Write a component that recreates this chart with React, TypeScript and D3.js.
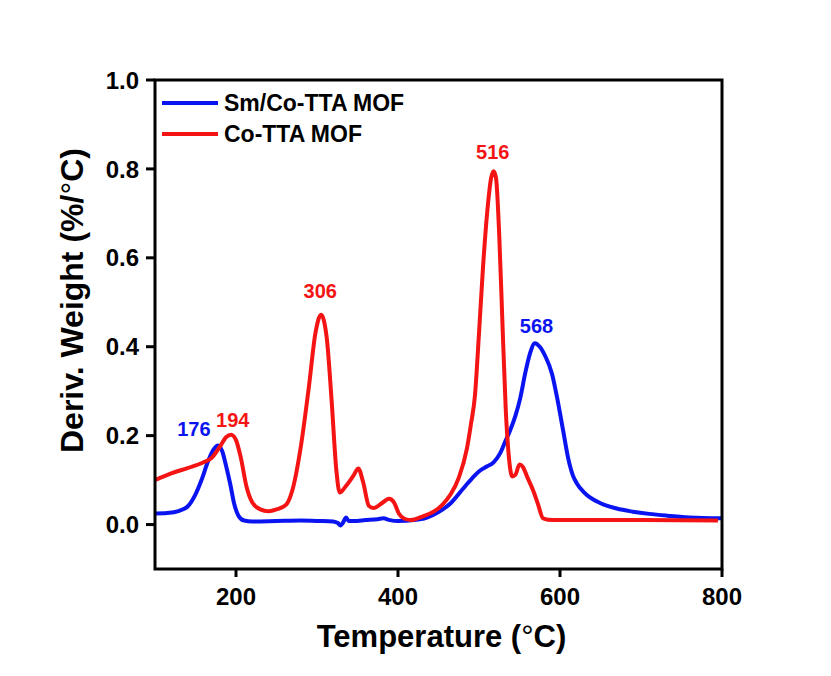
import * as d3 from "d3";

// Sm/Co-TTA MOF (blue) : temperature (°C), deriv. weight (%/°C)
const smTemp = [100, 115, 130, 140, 150, 158, 165, 172, 178, 183, 188, 193, 198, 203, 210, 220, 250, 280, 300, 320, 326, 329, 332, 336, 339, 345, 360, 375, 382, 390, 400, 420, 435, 450, 465, 480, 492, 501, 510, 518, 526, 532, 538, 545, 551, 557, 563, 569, 575, 582, 590, 597, 604, 610, 616, 621, 630, 637, 650, 670, 690, 710, 732, 760, 800];
const smValue = [0.025, 0.026, 0.031, 0.040, 0.068, 0.103, 0.140, 0.168, 0.178, 0.165, 0.130, 0.090, 0.045, 0.020, 0.009, 0.007, 0.008, 0.009, 0.008, 0.007, 0.003, -0.002, 0.004, 0.016, 0.008, 0.008, 0.010, 0.012, 0.014, 0.010, 0.008, 0.010, 0.015, 0.028, 0.048, 0.080, 0.105, 0.121, 0.131, 0.140, 0.160, 0.185, 0.210, 0.245, 0.285, 0.340, 0.385, 0.408, 0.400, 0.378, 0.340, 0.280, 0.210, 0.150, 0.110, 0.092, 0.072, 0.061, 0.048, 0.036, 0.029, 0.024, 0.020, 0.016, 0.014];

// Co-TTA MOF (red)
const coTemp = [100, 120, 140, 160, 170, 180, 188, 194, 200, 206, 213, 220, 230, 240, 250, 262, 270, 280, 290, 298, 305, 312, 318, 324, 328, 335, 345, 351, 357, 364, 370, 380, 389, 395, 401, 408, 416, 430, 445, 455, 465, 475, 485, 490, 495, 500, 505, 510, 515, 518, 521, 525, 529, 533, 537, 541, 545, 550, 554, 560, 567, 573, 579, 585, 600, 650, 700, 795];
const coValue = [0.100, 0.115, 0.127, 0.140, 0.150, 0.175, 0.197, 0.202, 0.190, 0.150, 0.085, 0.050, 0.034, 0.030, 0.034, 0.045, 0.080, 0.175, 0.310, 0.430, 0.472, 0.420, 0.280, 0.120, 0.072, 0.085, 0.110, 0.126, 0.095, 0.042, 0.037, 0.048, 0.058, 0.050, 0.025, 0.013, 0.010, 0.018, 0.030, 0.045, 0.068, 0.105, 0.170, 0.225, 0.290, 0.430, 0.580, 0.700, 0.780, 0.795, 0.780, 0.650, 0.450, 0.260, 0.150, 0.108, 0.112, 0.135, 0.130, 0.105, 0.076, 0.045, 0.014, 0.011, 0.010, 0.010, 0.010, 0.009];

const xTicks = [200, 400, 600, 800];
const yTicks = [0.0, 0.2, 0.4, 0.6, 0.8, 1.0];

const seriesNames = ["Sm/Co-TTA MOF", "Co-TTA MOF"];
const seriesColors = ["#0a14f0", "#f41414"];

// peak labels: text, anchor temperature, anchor value, series index
const peakText = ["176", "194", "306", "516", "568"];
const peakX = [148, 196, 304, 517, 571];
const peakY = [0.2, 0.22, 0.51, 0.822, 0.431];
const peakSeries = [0, 1, 1, 1, 0];

const W = 831;
const H = 676;
const margin = { left: 155, right: 109, top: 80, bottom: 107 };
const font = "Arial, 'Liberation Sans', sans-serif";

export default function App() {
  const x = d3.scaleLinear().domain([100, 800]).range([margin.left, W - margin.right]);
  const y = d3.scaleLinear().domain([-0.1, 1.0]).range([H - margin.bottom, margin.top]);

  const line = d3
    .line<[number, number]>()
    .x((d) => x(d[0]))
    .y((d) => y(d[1]))
    .curve(d3.curveMonotoneX);

  const smPath = line(smTemp.map((t, i) => [t, smValue[i]]) as [number, number][]);
  const coPath = line(coTemp.map((t, i) => [t, coValue[i]]) as [number, number][]);

  const x0 = x.range()[0];
  const x1 = x.range()[1];
  const yb = y.range()[0];
  const yt = y.range()[1];

  return (
    <svg
      width={W}
      height={H}
      style={{ position: "absolute", left: 0, top: 0, background: "#fff" }}
      fontFamily={font}
      fontWeight="bold"
    >
      <rect width={W} height={H} fill="#fff" />

      <path d={smPath || ""} fill="none" stroke={seriesColors[0]} strokeWidth={4} strokeLinejoin="round" />
      <path d={coPath || ""} fill="none" stroke={seriesColors[1]} strokeWidth={4} strokeLinejoin="round" />

      {/* frame */}
      <rect x={x0} y={yt} width={x1 - x0} height={yb - yt} fill="none" stroke="#000" strokeWidth={3} />

      {/* x axis */}
      {xTicks.map((t) => (
        <g key={"x" + t}>
          <line x1={x(t)} x2={x(t)} y1={yb} y2={yb + 8} stroke="#000" strokeWidth={3} />
          <text x={x(t)} y={yb + 36} textAnchor="middle" fontSize={24}>
            {t}
          </text>
        </g>
      ))}

      {/* y axis */}
      {yTicks.map((t) => (
        <g key={"y" + t}>
          <line x1={x0 - 9} x2={x0} y1={y(t)} y2={y(t)} stroke="#000" strokeWidth={3} />
          <text x={x0 - 16} y={y(t)} dy="0.36em" textAnchor="end" fontSize={24}>
            {d3.format(".1f")(t)}
          </text>
        </g>
      ))}

      <text x={(x0 + x1) / 2 + 3} y={647} textAnchor="middle" fontSize={31}>
        Temperature (<tspan fontWeight="normal">°</tspan>C)
      </text>
      <text transform={`translate(83, ${(yt + yb) / 2 - 24}) rotate(-90)`} textAnchor="middle" fontSize={32}>
        Deriv. Weight (%/<tspan fontWeight="normal">°</tspan>C)
      </text>

      {/* legend */}
      {seriesNames.map((name, i) => (
        <g key={name} transform={`translate(162, ${103 + i * 31})`}>
          <line x1={0} x2={56} y1={0} y2={0} stroke={seriesColors[i]} strokeWidth={4} />
          <text x={62} y={0} dy="0.36em" fontSize={23}>
            {name}
          </text>
        </g>
      ))}

      {/* peak labels */}
      {peakText.map((s, i) => (
        <text key={s} x={x(peakX[i])} y={y(peakY[i])} textAnchor="middle" fontSize={20} fill={seriesColors[peakSeries[i]]}>
          {s}
        </text>
      ))}
    </svg>
  );
}
